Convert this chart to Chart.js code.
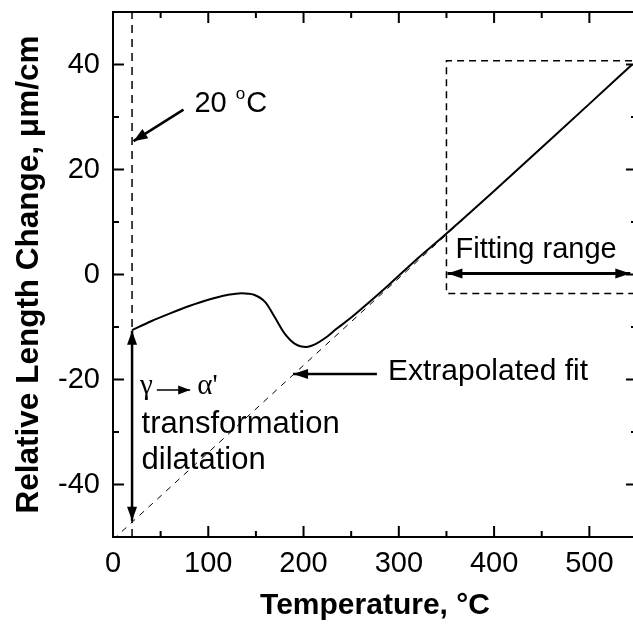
<!DOCTYPE html>
<html>
<head>
<meta charset="utf-8">
<script src="https://cdn.jsdelivr.net/npm/chart.js@4.4.1/dist/chart.umd.min.js"></script>
<style>
  html, body { margin: 0; padding: 0; background: #fff; overflow: hidden; }
  #wrap { width: 650px; height: 626px; }
</style>
</head>
<body>
<div id="wrap"><canvas id="dilatometry" width="650" height="626"></canvas></div>
<script>
// measured dilatation curve (temperature in C, relative length change in um/cm)
const tempC = [20, 40, 60, 80, 100, 120, 135, 148, 160, 170, 180, 191, 203, 212, 222, 235, 250, 270, 290, 320, 345, 400, 450, 500, 545];
const lengthChange = [-10.6, -8.9, -7.4, -6.0, -4.8, -3.9, -3.55, -3.85, -5.3, -8.2, -11.2, -13.2, -13.8, -13.3, -12.2, -10.3, -8.2, -5.1, -1.9, 3.1, 7.0, 15.9, 24.2, 32.5, 40.0];

// extrapolated linear fit
const fitTemp = [0, 550];
const fitChange = [-50.5, 40.8];

// 20 C reference line
const refTemp = [20, 20];
const refChange = [-50, 50];

// fitting range box
const boxTemp = [570, 350, 350, 570];
const boxChange = [40.7, 40.7, -3.6, -3.6];

const xLabels = [0, 100, 200, 300, 400, 500];
const yLabels = [-40, -20, 0, 20, 40];

function pts(xs, ys) {
  return xs.map((v, i) => ({ x: v, y: ys[i] }));
}

function arrowHead(ctx, x1, y1, x2, y2, len, half) {
  const a = Math.atan2(y2 - y1, x2 - x1);
  ctx.beginPath();
  ctx.moveTo(x2, y2);
  ctx.lineTo(x2 - len * Math.cos(a) + half * Math.sin(a), y2 - len * Math.sin(a) - half * Math.cos(a));
  ctx.lineTo(x2 - len * Math.cos(a) - half * Math.sin(a), y2 - len * Math.sin(a) + half * Math.cos(a));
  ctx.closePath();
  ctx.fill();
}

function arrow(ctx, x1, y1, x2, y2, opts) {
  const o = Object.assign({ width: 2.5, len: 13, half: 5, both: false }, opts);
  ctx.lineWidth = o.width;
  ctx.beginPath();
  ctx.moveTo(x1, y1);
  ctx.lineTo(x2, y2);
  ctx.stroke();
  arrowHead(ctx, x1, y1, x2, y2, o.len, o.half);
  if (o.both) arrowHead(ctx, x2, y2, x1, y1, o.len, o.half);
}

const frameAndTicks = {
  id: 'frameAndTicks',
  afterDatasetsDraw(chart) {
    const { ctx, chartArea: a, scales: { x, y } } = chart;
    ctx.save();
    ctx.strokeStyle = '#000';
    ctx.lineWidth = 2;
    ctx.strokeRect(a.left, a.top, a.right - a.left, a.bottom - a.top);
    ctx.beginPath();
    x.ticks.forEach(t => {
      const px = x.getPixelForValue(t.value);
      const len = xLabels.includes(t.value) ? 11 : 6;
      ctx.moveTo(px, a.bottom); ctx.lineTo(px, a.bottom - len);
      ctx.moveTo(px, a.top); ctx.lineTo(px, a.top + len);
    });
    y.ticks.forEach(t => {
      const py = y.getPixelForValue(t.value);
      const len = yLabels.includes(t.value) ? 11 : 6;
      ctx.moveTo(a.left, py); ctx.lineTo(a.left + len, py);
      ctx.moveTo(a.right, py); ctx.lineTo(a.right - len, py);
    });
    ctx.stroke();
    ctx.restore();
  }
};

const annotations = {
  id: 'annotations',
  afterDatasetsDraw(chart) {
    const { ctx, scales: { x, y } } = chart;
    const X = v => x.getPixelForValue(v);
    const Y = v => y.getPixelForValue(v);
    ctx.save();
    ctx.strokeStyle = '#000';
    ctx.fillStyle = '#000';
    ctx.textBaseline = 'alphabetic';
    ctx.textAlign = 'left';

    // 20 C label
    arrow(ctx, X(74), Y(31.4), X(21.5), Y(25.4), { width: 2.5, len: 14, half: 5.5 });
    ctx.font = '29px "Liberation Sans", Arial, sans-serif';
    let tx = X(85.5);
    const ty = Y(30.9);
    ctx.fillText('20', tx, ty);
    tx += ctx.measureText('20 ').width + 1;
    ctx.font = '17px "Liberation Sans", Arial, sans-serif';
    ctx.fillText('o', tx, ty - 13);
    tx += ctx.measureText('o').width + 1;
    ctx.font = '29px "Liberation Sans", Arial, sans-serif';
    ctx.fillText('C', tx, ty);

    // transformation dilatation arrow
    arrow(ctx, X(20), Y(-10.7), X(20), Y(-46.9), { width: 2.5, len: 14, half: 5, both: true });
    ctx.font = '29px "Liberation Serif", "Times New Roman", serif';
    ctx.fillText('\u03b3', X(28.3), Y(-22.8));
    arrow(ctx, X(46), Y(-22.0), X(81), Y(-22.0), { width: 1.5, len: 12, half: 4.5 });
    ctx.fillText('\u03b1\'', X(88.5), Y(-22.8));
    ctx.font = '31px "Liberation Sans", Arial, sans-serif';
    ctx.fillText('transformation', X(30), Y(-30.2));
    ctx.fillText('dilatation', X(30), Y(-37.0));

    // extrapolated fit
    arrow(ctx, X(277), Y(-18.95), X(189), Y(-18.95), { width: 2.5, len: 15, half: 5 });
    ctx.font = '30px "Liberation Sans", Arial, sans-serif';
    ctx.fillText('Extrapolated fit', X(288.6), Y(-20.1));

    // fitting range
    arrow(ctx, X(351), Y(0.2), X(543), Y(0.2), { width: 3, len: 15, half: 5, both: true });
    ctx.font = '29px "Liberation Sans", Arial, sans-serif';
    ctx.fillText('Fitting range', X(359.5), Y(3.1));

    ctx.restore();
  }
};

new Chart(document.getElementById('dilatometry'), {
  type: 'scatter',
  data: {
    datasets: [
      {
        label: 'Dilatation',
        data: pts(tempC, lengthChange),
        showLine: true,
        borderColor: '#000',
        borderWidth: 2,
        pointRadius: 0,
        cubicInterpolationMode: 'monotone'
      },
      {
        label: 'Extrapolated fit',
        data: pts(fitTemp, fitChange),
        showLine: true,
        borderColor: '#000',
        borderWidth: 1,
        borderDash: [6, 6],
        pointRadius: 0
      },
      {
        label: '20 C',
        data: pts(refTemp, refChange),
        showLine: true,
        borderColor: '#000',
        borderWidth: 1.5,
        borderDash: [8, 6],
        pointRadius: 0
      },
      {
        label: 'Fitting range',
        data: pts(boxTemp, boxChange),
        showLine: true,
        borderColor: '#000',
        borderWidth: 1.5,
        borderDash: [7, 5],
        pointRadius: 0
      }
    ]
  },
  options: {
    responsive: false,
    animation: false,
    layout: { padding: { top: 12, right: 13, left: 0, bottom: 0 } },
    plugins: {
      legend: { display: false },
      tooltip: { enabled: false }
    },
    scales: {
      x: {
        type: 'linear',
        min: 0,
        max: 550,
        afterFit: s => { s.height = 89; s.paddingLeft = 0; s.paddingRight = 0; },
        grid: { drawOnChartArea: false, drawTicks: false },
        border: { display: false },
        ticks: {
          stepSize: 50,
          autoSkip: false,
          maxRotation: 0,
          padding: 10,
          color: '#000',
          font: { family: '"Liberation Sans", Arial, sans-serif', size: 29 },
          callback: v => (xLabels.includes(v) ? String(v) : '')
        },
        title: {
          display: true,
          text: 'Temperature, \u00b0C',
          color: '#000',
          padding: { top: 0, bottom: 2 },
          font: { family: '"Liberation Sans", Arial, sans-serif', size: 30, weight: 'bold' }
        }
      },
      y: {
        type: 'linear',
        min: -50,
        max: 50,
        afterFit: s => { s.width = 113; s.paddingTop = 0; s.paddingBottom = 0; },
        grid: { drawOnChartArea: false, drawTicks: false },
        border: { display: false },
        ticks: {
          stepSize: 10,
          autoSkip: false,
          padding: 13,
          color: '#000',
          font: { family: '"Liberation Sans", Arial, sans-serif', size: 29 },
          callback: v => (yLabels.includes(v) ? String(v) : '')
        },
        title: {
          display: true,
          text: 'Relative Length Change, \u03bcm/cm',
          color: '#000',
          padding: { top: 10, bottom: 0 },
          font: { family: '"Liberation Sans", Arial, sans-serif', size: 31.5, weight: 'bold' }
        }
      }
    }
  },
  plugins: [frameAndTicks, annotations]
});
</script>
</body>
</html>
